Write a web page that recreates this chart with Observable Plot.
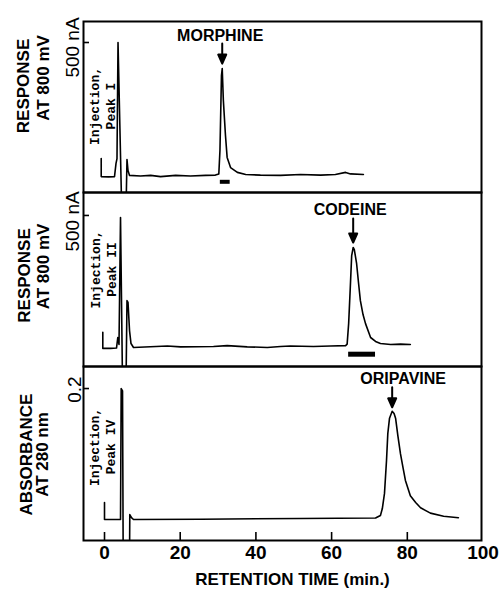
<!DOCTYPE html>
<html><head><meta charset="utf-8">
<script src="https://cdn.jsdelivr.net/npm/d3@7"></script>
<script src="https://cdn.jsdelivr.net/npm/@observablehq/plot@0.6"></script>
<style>
body{margin:0;background:#fff;}
#chart{width:503px;}
#chart svg{display:block;overflow:visible;}
</style></head><body><div id="chart"></div>
<script>
// ---------- data ----------
const xTicks = [0, 20, 40, 60, 80, 100];
const peakNames = ["MORPHINE", "CODEINE", "ORIPAVINE"];
const injectionLabels = ["Injection,\nPeak I", "Injection,\nPeak II", "Injection,\nPeak IV"];
const yTickValues = [500, 500, 0.2];
const yTickLabels = ["500 nA", "500 nA", "0.2"];

// Panel 1: response (nA) at 800 mV — morphine
const morphineTime = [-0.87, -0.87, 1.06, 2.64, 3.04, 3.30, 3.57, 4.55, 5.68, 5.94, 6.21, 6.61, 9.5, 12.2, 14.8, 18.8, 22.7, 26.7, 29.3, 30.2, 30.5, 30.9, 31.1, 31.4, 31.96, 32.4, 33.3, 35.1, 37.3, 41.2, 46.5, 51.8, 57.1, 61.0, 63.7, 65.0, 68.4];
const morphineResponse = [113, 53, 52, 53, 97, 113, 500, -60, -60, 110, 73, 57, 55, 57, 53, 57, 55, 57, 58, 62, 140, 390, 413, 307, 190, 117, 83, 67, 60, 58, 57, 60, 58, 60, 67, 62, 60];
const morphineFraction = [30.6, 33.2];

// Panel 2: response (nA) at 800 mV — codeine
const codeineTime = [-0.45, -0.45, 1.59, 3.17, 3.51, 3.83, 4.23, 4.76, 5.68, 5.94, 6.21, 6.61, 7.0, 7.66, 16.6, 20.1, 28.8, 32.4, 37.7, 43.0, 46.5, 49.1, 55.2, 59.7, 63.7, 64.1, 64.5, 64.9, 65.3, 65.7, 66.0, 66.6, 67.1, 67.6, 68.3, 68.96, 70.3, 71.6, 72.9, 75.6, 78.2, 80.8];
const codeineResponse = [113, 60, 60, 61, 96, 73, 493, -60, -60, 218, 212, 119, 76, 63, 68, 65, 66, 69, 65, 63, 66, 68, 66, 68, 69, 74, 142, 252, 367, 394, 387, 341, 278, 218, 172, 142, 96, 83, 76, 73, 74, 73];
const codeineFraction = [64.5, 71.6];

// Panel 3: absorbance at 280 nm — oripavine
const oripavineTime = [0.0, 0.0, 2.11, 4.23, 4.41, 4.76, 4.94, 6.6, 6.68, 7.13, 7.66, 25.4, 51.8, 71.6, 72.9, 73.4, 73.97, 74.5, 74.85, 75.3, 76.0, 76.5, 76.9, 77.5, 78.2, 78.9, 79.5, 80.8, 82.2, 83.5, 86.1, 89.6, 93.5];
const oripavineAbsorbance = [0.050, 0.0276, 0.0276, 0.0276, 0.200, 0.197, -0.03, -0.03, 0.034, 0.030, 0.0276, 0.028, 0.029, 0.0296, 0.033, 0.042, 0.062, 0.105, 0.141, 0.161, 0.170, 0.167, 0.161, 0.138, 0.114, 0.095, 0.079, 0.059, 0.050, 0.043, 0.036, 0.032, 0.030];

// ---------- layout / style ----------
const W = 503, ML = 83, MR = 22;
const xDomain = [-5.55, 99.6];
const sans = "'Liberation Sans', Arial, Helvetica, sans-serif";
const mono = "'Liberation Mono', 'Courier New', monospace";
const ink = "#000";

const arrowShape = {
  draw(ctx, l) {
    const h = 9, w = 4;
    ctx.moveTo(0, 0);
    ctx.lineTo(0, -l + h);
    ctx.moveTo(-w, -l + h);
    ctx.lineTo(0, -l);
    ctx.lineTo(w, -l + h);
    ctx.closePath();
  }
};

function peakOf(time, value) {
  const i = d3.maxIndex(value, (v, k) => (time[k] > 15 ? v : undefined));
  return {t: time[i], v: value[i]};
}

function panel(o) {
  const data = o.time.map((t, i) => ({t, v: o.value[i]}));
  const pk = peakOf(o.time, o.value);
  const peak = [{t: pk.t, v: pk.v, name: o.peakName}];
  const innerH = o.height - o.marginTop - o.marginBottom;
  const innerW = W - ML - MR;
  const rotated = {frameAnchor: "left", rotate: -90, textAnchor: "middle", lineAnchor: "middle", fill: ink};
  const marks = [
    Plot.line(data, {x: "t", y: "v", stroke: ink, strokeWidth: 1.6, clip: true, strokeLinejoin: "round"}),
    Plot.tickY([o.yTick], {y: d => d, insetRight: innerW - 6, stroke: ink, strokeWidth: 1.6}),
    Plot.text([o.yTick], {...rotated, y: d => d, text: () => o.yTickLabel, dx: o.tickDx, dy: o.tickDy, fontSize: 19, fontFamily: sans}),
    Plot.vector(peak, {x: "t", y: "v", length: o.arrowLen, rotate: 180, anchor: "end", shape: arrowShape, stroke: ink, fill: ink, strokeWidth: 2, dy: o.arrowDy}),
    Plot.text(peak, {x: "t", y: "v", text: "name", dx: o.nameDx, dy: o.nameDy, lineAnchor: "bottom", fontSize: 16, fontWeight: "bold", fontFamily: sans, fill: ink}),
    Plot.text([o.injLabel], {...rotated, text: d => d, dx: o.injDx, dy: o.injDy, fontFamily: mono, fontWeight: "bold", fontSize: 13, lineHeight: 1.25}),
    Plot.text([o.label1], {...rotated, text: d => d, dx: o.l1dx, dy: o.l1dy, fontSize: 17, fontWeight: "bold", fontFamily: sans}),
    Plot.text([o.label2], {...rotated, text: d => d, dx: o.l2dx, dy: o.l2dy, fontSize: 17, fontWeight: "bold", fontFamily: sans}),
    Plot.frame({stroke: ink, strokeWidth: 2})
  ];
  if (o.fraction) {
    marks.push(Plot.rect([o.fraction], {x1: d => d[0], x2: d => d[1], insetTop: innerH - o.fracTop, insetBottom: o.fracBottom, fill: ink}));
  }
  if (o.xAxis) {
    marks.push(
      Plot.tickX(xTicks.filter(d => d < 100), {x: d => d, insetTop: innerH - 8, stroke: ink, strokeWidth: 1.6}),
      Plot.axisX(xTicks, {tickSize: 0, tickPadding: 5, fontSize: 19, fontWeight: "bold", fontFamily: sans, label: null, fill: ink}),
      Plot.text(["RETENTION TIME (min.)"], {text: d => d, frameAnchor: "bottom", textAnchor: "middle", dx: 10, dy: 44, lineAnchor: "bottom", fontSize: 17, fontWeight: "bold", fontFamily: sans, fill: ink})
    );
  }
  return Plot.plot({
    width: W, height: o.height,
    marginLeft: ML, marginRight: MR, marginTop: o.marginTop, marginBottom: o.marginBottom,
    x: o.xAxis ? {domain: xDomain} : {domain: xDomain, axis: null},
    y: {domain: o.yDomain, axis: null},
    style: {background: "transparent", overflow: "visible", fontFamily: sans, color: ink},
    marks
  });
}

const chart = document.getElementById("chart");
chart.append(panel({
  time: morphineTime, value: morphineResponse, peakName: peakNames[0], fraction: morphineFraction,
  height: 192, marginTop: 21, marginBottom: 0, yDomain: [0, 570],
  yTick: yTickValues[0], yTickLabel: yTickLabels[0], tickDx: -11, tickDy: 5,
  arrowLen: 20, arrowDy: -5, nameDx: -2, nameDy: -28,
  injLabel: injectionLabels[0], injDx: 18, injDy: -1,
  label1: "RESPONSE", l1dx: -59.5, l1dy: -21, label2: "AT 800 mV", l2dx: -39.5, l2dy: -29,
  fracTop: 12.2, fracBottom: 8.2
}));
chart.append(panel({
  time: codeineTime, value: codeineResponse, peakName: peakNames[1], fraction: codeineFraction,
  height: 174, marginTop: 0, marginBottom: 0, yDomain: [0, 576],
  yTick: yTickValues[1], yTickLabel: yTickLabels[1], tickDx: -11, tickDy: 6,
  arrowLen: 24, arrowDy: -5, nameDx: -3, nameDy: -32,
  injLabel: injectionLabels[1], injDx: 19, injDy: -10,
  label1: "RESPONSE", l1dx: -59, l1dy: -4, label2: "AT 800 mV", l2dx: -39.5, l2dy: -13,
  fracTop: 14.3, fracBottom: 9.3
}));
chart.append(panel({
  time: oripavineTime, value: oripavineAbsorbance, peakName: peakNames[2], fraction: null,
  height: 231, marginTop: 0, marginBottom: 57, yDomain: [0, 0.229],
  yTick: yTickValues[2], yTickLabel: yTickLabels[2], tickDx: -9, tickDy: 1,
  arrowLen: 20, arrowDy: -4, nameDx: 11, nameDy: -27,
  injLabel: injectionLabels[2], injDx: 18.5, injDy: -6.5,
  label1: "ABSORBANCE", l1dx: -56.5, l1dy: 1, label2: "AT 280 nm", l2dx: -41, l2dy: 1,
  xAxis: true
}));
</script></body></html>
